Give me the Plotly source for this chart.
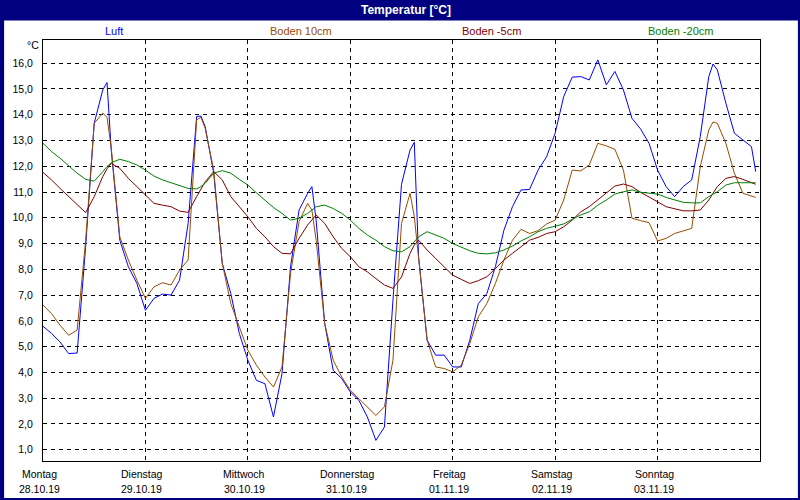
import plotly.graph_objects as go

# ---- data (hours since Mon 28.10.19 00:00) ----
hours = list(range(0, 168, 2)) + [167]

luft = [5.79, 5.51, 5.18, 4.73, 4.75, 8.9, 13.67, 14.96, 12.6, 9.13, 8.1, 7.45, 6.41, 6.87, 7.04,
        7.0, 7.58, 9.78, 13.93, 13.54, 11.73, 8.23, 7.06, 5.51, 4.47, 3.69, 3.56, 2.27,
        3.95, 8.1, 10.3, 10.95, 9.91, 5.9, 4.08, 3.76, 3.24, 2.92, 2.27, 1.36, 1.88, 6.8,
        11.3, 12.63, 8.49, 5.25, 4.67, 4.67, 4.21, 4.21, 5.25, 6.67, 7.06, 8.1, 9.52, 10.43,
        11.08, 11.1, 11.85, 12.37, 13.28, 14.7, 15.46, 15.48, 15.35, 16.13, 15.16, 15.68, 14.96, 13.86,
        13.45, 12.89, 11.85, 11.21, 10.82, 11.21, 11.47, 13.15, 15.48, 15.74, 14.45, 13.28, 13.02, 12.76,
        11.79]

boden10 = [6.61, 6.28, 5.83, 5.44, 5.64, 9.13, 13.67, 14.06, 12.7, 9.26, 8.36, 7.58, 6.87, 7.32, 7.48,
           7.39, 7.97, 8.36, 13.8, 13.47, 11.85, 8.23, 6.67, 5.77, 4.86, 4.28, 3.82, 3.43,
           4.21, 7.84, 9.85, 10.56, 9.13, 5.9, 4.47, 3.82, 3.31, 2.98, 2.66, 2.33, 2.66, 4.47,
           9.78, 10.95, 8.49, 5.25, 4.21, 4.15, 4.02, 4.28, 5.12, 6.16, 6.67, 7.45, 8.36, 9.13,
           9.55, 9.39, 9.5, 9.76, 9.91, 10.69, 11.85, 11.82, 12.05, 12.89, 12.79, 12.66, 11.85, 9.98,
           9.89, 9.81, 9.1, 9.2, 9.39, 9.5, 9.59, 11.98, 13.41, 13.67, 12.89, 11.73, 10.95, 10.84,
           10.79]

boden5 = [11.76, 11.47, 11.14, 10.82, 10.49, 10.2, 10.82, 11.6, 12.11, 11.92, 11.53, 11.21, 10.88, 10.56, 10.49,
          10.43, 10.26, 10.21, 10.82, 11.4, 11.79, 11.47, 10.82, 10.43, 10.04, 9.59, 9.26, 8.88,
          8.62, 8.6, 9.2, 9.72, 10.11, 9.78, 9.26, 8.81, 8.49, 8.1, 7.9, 7.64, 7.39, 7.26,
          7.7, 8.62, 9.13, 8.75, 8.42, 8.1, 7.77, 7.61, 7.45, 7.56, 7.71, 8.03, 8.36, 8.62,
          8.88, 9.13, 9.24, 9.39, 9.46, 9.65, 9.91, 10.23, 10.43, 10.69, 10.97, 11.23, 11.31, 11.21,
          10.99, 10.82, 10.62, 10.43, 10.36, 10.27, 10.27, 10.3, 10.69, 11.21, 11.53, 11.6, 11.49, 11.36,
          11.3]

boden20 = [12.89, 12.57, 12.31, 12.01, 11.73, 11.49, 11.42, 11.79, 12.14, 12.27, 12.18, 12.05, 11.85, 11.62, 11.47,
           11.36, 11.27, 11.14, 11.12, 11.34, 11.73, 11.83, 11.73, 11.49, 11.27, 10.97, 10.69, 10.4,
           10.17, 9.91, 9.98, 10.17, 10.43, 10.49, 10.36, 10.17, 9.91, 9.59, 9.33, 9.13, 8.88, 8.72,
           8.68, 8.88, 9.26, 9.46, 9.33, 9.2, 9.0, 8.85, 8.72, 8.62, 8.6, 8.64, 8.75, 8.9,
           9.1, 9.26, 9.46, 9.59, 9.68, 9.76, 9.94, 10.11, 10.23, 10.49, 10.69, 10.92, 11.01, 11.08,
           10.99, 10.95, 10.92, 10.79, 10.71, 10.6, 10.58, 10.58, 10.82, 11.01, 11.27, 11.36, 11.36, 11.36,
           11.36]

# extra readings near the sharp daily peaks
peak_hours = [15, 37, 63, 87, 157]
luft_peaks = [15.25, 13.95, 11.21, 12.93, 15.97]
boden10_peaks = [13.9, 13.9, 10.3, 10.05, 13.72]
boden5_peaks = [11.9, 11.1, 9.91, 8.94, 10.97]
boden20_peaks = [11.99, 11.21, 10.3, 9.07, 10.92]

series_names = ["Luft", "Boden 10cm", "Boden -5cm", "Boden -20cm"]
series_colors = ["#0000FF", "#994C00", "#800000", "#008000"]
legend_px = [112, 300, 491, 680]

day_ticks = [0, 24, 48, 72, 96, 120, 144]
day_names = ["Montag", "Dienstag", "Mittwoch", "Donnerstag", "Freitag", "Samstag", "Sonntag"]
day_dates = ["28.10.19", "29.10.19", "30.10.19", "31.10.19", "01.11.19", "02.11.19", "03.11.19"]
y_ticks = list(range(1, 17))
y_labels = [f"{v},0" for v in y_ticks]

# ---- layout geometry ----
W, H = 800, 500
L, R, T, B = 41, 40, 40, 39
PW, PH = W - L - R, H - T - B

def px_x(px):
    return (px - L) / PW

def px_y(py):
    return (H - B - py) / PH

def merged(base, extra):
    pts = sorted(list(zip(hours, base)) + list(zip(peak_hours, extra)))
    return [p[0] for p in pts], [p[1] for p in pts]

FONT = "Liberation Sans"

fig = go.Figure()
for name, vals, extra, col in zip(series_names, [luft, boden10, boden5, boden20],
                                  [luft_peaks, boden10_peaks, boden5_peaks, boden20_peaks],
                                  series_colors):
    xs, ys = merged(vals, extra)
    fig.add_trace(go.Scatter(x=xs, y=ys, mode="lines", name=name,
                             line=dict(color=col, width=1), hoverinfo="skip"))

annotations = []
annotations.append(dict(text="<b>Temperatur [°C]</b>", x=px_x(405), y=px_y(10), xref="paper", yref="paper",
                        showarrow=False, font=dict(family=FONT, size=12, color="white"),
                        xanchor="center", yanchor="middle"))
for name, col, lx in zip(series_names, series_colors, legend_px):
    annotations.append(dict(text=name, x=px_x(lx), y=px_y(30.5), xref="paper", yref="paper",
                            showarrow=False, font=dict(family=FONT, size=11, color=col),
                            xanchor="center", yanchor="middle"))
annotations.append(dict(text="°C", x=px_x(31), y=px_y(45), xref="paper", yref="paper",
                        showarrow=False, font=dict(family=FONT, size=10.5, color="black"),
                        xanchor="center", yanchor="middle"))
for t, dn, dd in zip(day_ticks, day_names, day_dates):
    annotations.append(dict(text=dn, x=t, y=px_y(474), xref="x", yref="paper", xshift=-3.5,
                            showarrow=False, font=dict(family=FONT, size=10.5, color="black"),
                            xanchor="center", yanchor="middle"))
    annotations.append(dict(text=dd, x=t, y=px_y(489), xref="x", yref="paper", xshift=-3.5,
                            showarrow=False, font=dict(family=FONT, size=10.5, color="black"),
                            xanchor="center", yanchor="middle"))

shapes = [dict(type="rect", xref="paper", yref="paper",
               x0=px_x(2), x1=px_x(798), y0=px_y(498), y1=px_y(20.5),
               fillcolor="white", line=dict(width=0), layer="below")]

fig.update_layout(
    width=W, height=H,
    margin=dict(l=L, r=R, t=T, b=B, pad=0),
    paper_bgcolor="#000080", plot_bgcolor="white",
    showlegend=False,
    annotations=annotations, shapes=shapes,
    font=dict(family=FONT, size=10.5, color="black"),
)
fig.update_xaxes(range=[0, 168], tickvals=day_ticks, showticklabels=False,
                 showgrid=True, gridcolor="black", gridwidth=1, griddash="4px,4px",
                 showline=True, linecolor="black", linewidth=1, mirror=True,
                 zeroline=False, ticks="")
fig.update_yaxes(range=[0.56, 16.9], tickvals=y_ticks, ticktext=y_labels,
                 showgrid=True, gridcolor="black", gridwidth=1, griddash="4px,4px",
                 showline=True, linecolor="black", linewidth=1, mirror=True,
                 zeroline=False, ticks="", ticklabelstandoff=7,
                 tickfont=dict(family=FONT, size=10.5, color="black"))

fig.write_html("out.html", config={"displayModeBar": False},
               post_script="document.body.style.margin='0';document.body.style.overflow='hidden';")
